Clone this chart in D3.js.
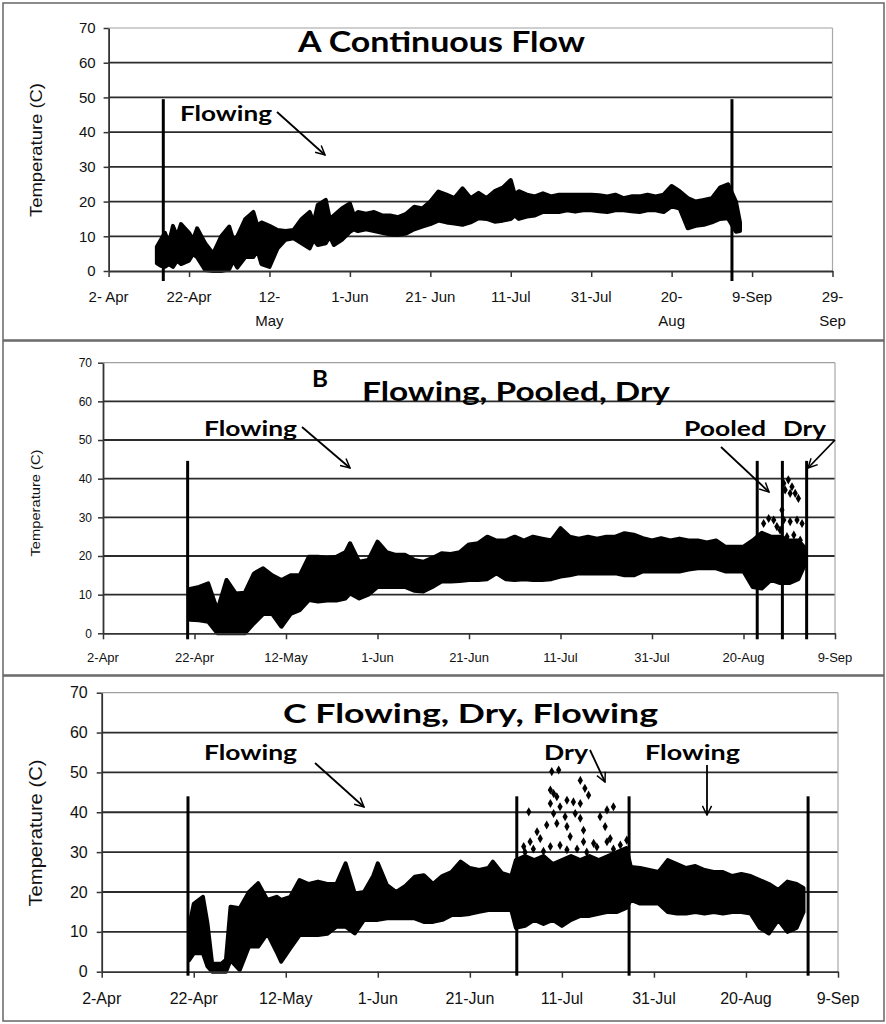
<!DOCTYPE html>
<html><head><meta charset="utf-8">
<script src="https://cdn.jsdelivr.net/npm/d3@7"></script>
<style>body{margin:0;background:#fff} svg{display:block}</style>
</head><body><svg id="c" width="886" height="1024"></svg>
<script>
// ---------- DATA (days counted from 2-Apr) ----------
const yTicks = [0,10,20,30,40,50,60,70];
const xTicksA = [0,20,40,60,80,100,120,140,160,180];
const xTicksBC = [0,20,40,60,80,100,120,140,160];
const tickLabelsA = [["2- Apr"],["22-Apr"],["12-","May"],["1-Jun"],["21- Jun"],["11-Jul"],["31-Jul"],["20-","Aug"],["9-Sep"],["29-","Sep"]];
const tickLabelsBC = ["2-Apr","22-Apr","12-May","1-Jun","21-Jun","11-Jul","31-Jul","20-Aug","9-Sep"];

// [day, min temp, max temp] envelopes of the logger readings
const bandA = [[12,2.2,7],[13,1.5,9],[14,1.2,11],[15,2,8],[16,1.2,13],[17,3,10],[18,2,13.5],[20,3,11],[21,5,9],[22,4,12.3],[24,0.3,8],[26,0,5],[28,0,10],[30,0.5,12.8],[31,3,9],[32,1,10],[34,4,15],[36,4,17],[37,6,13],[38,2,14],[40,1.2,13],[42,6.5,11.8],[44,9,11.5],[46,9.4,11.8],[48,8,15],[50,6.5,17],[51,9,14],[52,7.5,19],[54,8,20.5],[55,10,15],[56,7.5,16],[58,9,18],[60,11.3,19.5],[61,12,16],[62,11.5,17],[64,12,16.5],[66,11.5,17],[68,11,16],[70,10.5,16],[72,10.4,15.5],[74,10.8,16.5],[76,12,18.5],[78,12.8,18],[80,13.5,20],[82,14.5,22.9],[84,14,22],[86,13.7,21],[88,13.3,23.8],[90,14,21],[92,15.2,22.5],[94,15,21],[96,14.2,23],[98,14.5,24],[100,15,26.2],[101,16,22],[102,15,23],[104,15.7,22],[106,16,21.5],[108,17,22.4],[110,17,21.5],[112,17,22],[114,17.5,22],[116,17.1,22],[118,17.5,22],[120,17.5,22],[122,17.2,21.8],[124,17,21.5],[126,17.5,22],[128,17.5,21],[130,17.2,21.5],[132,17,21.5],[134,17.5,22],[136,17.5,21.5],[138,17,22],[140,18.6,24.5],[142,18,23],[144,12.3,21],[146,13,20],[148,13.3,20.5],[150,14,21],[152,15,24],[154,15.2,25],[156,11.3,20],[157,11.5,14]];

const bandB = [[19,3.5,11.5],[21,3.4,12],[23,3,12.9],[25,0,6],[27,0,13.8],[29,0,10.3],[31,0,10.5],[33,2.6,15.5],[35,5,16.8],[37,5,15],[39,1.7,13.8],[41,5,15],[43,6,15],[45,8.6,19.8],[47,8.2,19.8],[49,8.5,19.5],[51,8.5,19.8],[53,9,21],[54,10.3,23.3],[56,9,18.5],[58,10,19],[60,12,23.7],[62,12,21],[64,12,20.3],[66,12,20.3],[68,11,19],[70,10.8,18.5],[72,12,19.5],[74,13.4,20.7],[76,13.4,20.5],[78,13.5,21],[80,13.8,23],[82,13.8,23.3],[84,14,25],[86,15.5,24],[88,14,24],[90,13.8,25],[92,14,24],[94,13.8,25],[96,13.8,24.5],[98,14,24],[100,14.7,27.2],[102,15,25],[104,15.5,24.5],[106,15.5,25],[108,15.5,24.5],[110,15.5,25],[112,15.5,25],[114,15,25.9],[116,15,25.5],[118,16,24.6],[120,16,24],[122,16,24.6],[124,16,24],[126,16,24.5],[128,16.5,24],[130,16.8,24],[132,16.8,23.5],[134,16.8,24],[136,16,22.4],[138,16,22.4],[140,16,22.4],[142,12,24],[144,11.6,26],[146,13.8,25],[148,13,25],[150,13,24],[152,14,24],[153.5,18,22]];
const scatterB = [[144.4,28.4],[145.5,29.7],[146.6,29.3],[147.3,27.6],[148,26.7],[148.8,38.8],[149.1,37.1],[149.8,39.7],[150.6,37.9],[151.3,36.2],[152,34.9],[150.2,36.2],[148.8,29.3],[150.2,28.9],[151.7,29.3],[152.8,28.4],[149.5,25],[151,25.4],[152.4,24.1],[148.4,31.9]];

const bandC = [[19,2.9,11.3],[20,4.6,17],[22,4.6,18.8],[23,1.3,12],[24,0,2],[26,0,2],[27,0,3],[28,2.9,16.3],[30,0.4,15.9],[32,6.3,20],[34,6.3,22.2],[36,9.6,18],[38,5,18.8],[39,2.5,18],[41,5.9,18.8],[43,9.2,23],[45,9.2,22],[47,9.2,22.6],[49,9.5,22],[51,11.3,22],[53,11.3,27.2],[55,9.6,19.6],[57,13,20],[59,13,24],[60,13,27.2],[62,13.4,21.7],[64,13.4,20],[66,13.4,21.5],[68,13.4,23.8],[70,12.5,24.2],[72,12.5,22],[74,13,24],[76,14.2,25],[78,14.2,27.6],[80,14.5,26],[82,15,25.5],[84,15.5,26],[85,15.5,27.6],[87,15.5,24.7],[89,15.5,24],[90,11,28],[92,11.5,29],[94,13,28],[96,12,29],[98,13,27],[100,11.5,28],[102,13,29],[104,14,28],[106,14,29],[108,14.5,28],[110,15,29],[112,15,30],[114,16,31],[115,18,26.3],[117,17.1,26],[119,17.1,25.5],[121,17.1,25],[123,15,28],[125,14.6,27],[127,14.6,26],[129,15,26.5],[131,14.6,25.5],[133,15,25],[135,14.6,25],[137,15,24],[139,15,24.5],[141,14.6,24],[143,11,23],[145,9.6,22],[147,13,20.5],[149,10,22.6],[151,11,22],[152.5,15,21]];
const scatterC = [[92.8,40.1],[97.8,50.2],[99.3,50.6],[97.5,45.6],[98.2,44.7],[98.9,43.9],[101.1,43],[102.5,42.6],[104,48],[105,46],[105.8,44.3],[104,42.2],[99.6,41.4],[97.5,42.2],[98.2,39.7],[100.7,38.9],[102.9,39.7],[104,38.5],[109.8,40.6],[111.2,41.4],[108.3,38.9],[94.6,35.1],[96.7,36.8],[98.9,37.2],[101.1,36.4],[104.7,35.5],[109.4,36.4],[93.1,32.6],[95.3,33.4],[101.8,33.9],[104.7,32.6],[110.5,33.4],[114.1,33],[91.7,31.4],[97.5,31.4],[106.9,32.2],[112.7,31.8],[93.8,30.8],[99.6,31.7],[103.3,30.8],[107.6,31.3],[111.2,30.8],[92,30],[96,30.2],[101.1,30.6],[105.4,30],[109.8,32.6],[113.4,30]];

// flow-state boundaries (day) and their height (deg C)
const linesA = [13.6, 155];
const linesB = [18.5, 143, 148.5, 153.8];
const linesC = [18.75, 90.2, 114.6, 153.5];

// ---------- RENDER ----------
const svg = d3.select("#c");
const t0 = Date.UTC(2010,3,2);
const day = d => new Date(t0 + d*864e5);
const AX = "'Liberation Sans', Arial, sans-serif";
const TF = "Lato, 'Open Sans', sans-serif";

svg.append("defs").append("marker").attr("id","arr").attr("viewBox","0 0 12 12")
  .attr("refX",11).attr("refY",6).attr("markerWidth",11).attr("markerHeight",11)
  .attr("markerUnits","userSpaceOnUse").attr("orient","auto")
  .append("path").attr("d","M1,1 L11,6 L1,11").attr("fill","none").attr("stroke","#000").attr("stroke-width",1.6);

[[3,3,881,337],[3,341,881,334],[3,676,881,345]].forEach(r=>{
  svg.append("rect").attr("x",r[0]).attr("y",r[1]).attr("width",r[2]).attr("height",r[3])
    .attr("fill","none").attr("stroke","#666").attr("stroke-width",1.5);
});

function drawPanel(p){
  const g = svg.append("g");
  const x = d3.scaleUtc().domain([day(0), day(p.endDay)]).range([p.left, p.right]);
  const y = d3.scaleLinear().domain([0,70]).range([p.bottom, p.top]);

  g.selectAll("line.grid").data(yTicks.filter(v=>v>0)).join("line").attr("class","grid")
    .attr("x1",p.left).attr("x2",p.right).attr("y1",d=>y(d)).attr("y2",d=>y(d))
    .attr("stroke",d=>d===70?"#a0a0a0":"#2b2b2b").attr("stroke-width",d=>d===70?1.2:1.8);
  g.append("line").attr("x1",p.right).attr("x2",p.right).attr("y1",y(0)).attr("y2",y(70))
    .attr("stroke","#a8a8a8").attr("stroke-width",1.2);

  const area = d3.area().x(d=>x(day(d[0]))).y0(d=>y(d[1])).y1(d=>y(d[2]));
  g.append("path").datum(p.band).attr("d",area).attr("fill","#000").attr("stroke","#000")
    .attr("stroke-width",4).attr("stroke-linejoin","round");
  if(p.scatter){
    g.selectAll("path.s").data(p.scatter).join("path").attr("class","s")
      .attr("d",d3.symbol().type(d3.symbolDiamond).size(24)())
      .attr("transform",d=>`translate(${x(day(d[0]))},${y(d[1])})`).attr("fill","#000");
  }

  const ga = g.append("g").attr("transform",`translate(0,${p.bottom})`)
    .call(d3.axisBottom(x).tickValues(p.xTicks.map(day)).tickSize(6).tickSizeOuter(0).tickFormat(""));
  ga.select(".domain").attr("stroke","#333").attr("stroke-width",1.8);
  ga.selectAll(".tick line").attr("stroke","#333").attr("stroke-width",1.5);
  p.xTicks.forEach((t,i)=>{
    const lab = p.xLabels[i];
    const lines = Array.isArray(lab)?lab:[lab];
    const tx = g.append("text").attr("x",x(day(t))).attr("y",p.xLabY).attr("text-anchor","middle")
      .attr("font-family",AX).attr("font-size",p.xFont).attr("fill","#111");
    lines.forEach((s,j)=>tx.append("tspan").attr("x",x(day(t))).attr("dy",j?p.xLineH:0).text(s));
  });

  const gy = g.append("g").attr("transform",`translate(${p.left},0)`)
    .call(d3.axisLeft(y).tickValues(yTicks).tickSize(5).tickSizeOuter(0).tickPadding(p.yPad));
  gy.select(".domain").attr("stroke","#333").attr("stroke-width",1.8);
  gy.selectAll(".tick line").attr("stroke","#333").attr("stroke-width",1.5);
  gy.selectAll(".tick text").attr("font-family",AX).attr("font-size",p.yFont).attr("fill","#111");
  g.append("text").attr("transform",`translate(${p.ytX},${p.ytY}) rotate(-90)`)
    .attr("text-anchor","middle").attr("font-family",AX).attr("font-size",p.ytFont)
    .attr("textLength",p.ytLen).attr("lengthAdjust","spacingAndGlyphs").attr("fill","#111")
    .text("Temperature (C)");

  g.selectAll("line.v").data(p.lines).join("line").attr("class","v")
    .attr("x1",d=>x(day(d))).attr("x2",d=>x(day(d))).attr("y1",y(p.lineTop)).attr("y2",p.bottom+p.lineExt)
    .attr("stroke","#000").attr("stroke-width",3);

  p.texts.forEach(t=>{
    g.append("text").attr("x",t.x).attr("y",t.y).attr("font-family",TF).attr("font-size",t.s)
      .attr("font-weight",t.w||700).attr("textLength",t.len).attr("lengthAdjust","spacingAndGlyphs")
      .attr("fill","#000").text(t.t);
  });
  p.arrows.forEach(a=>{
    g.append("line").attr("x1",a[0]).attr("y1",a[1]).attr("x2",a[2]).attr("y2",a[3])
      .attr("stroke","#000").attr("stroke-width",1.8).attr("marker-end","url(#arr)");
  });
}

drawPanel({left:108.6,right:832.5,top:28,bottom:271,endDay:180,band:bandA,
  xTicks:xTicksA,xLabels:tickLabelsA,xLabY:302,xLineH:24,xFont:15,yFont:15,yPad:8,
  ytX:42,ytY:150,ytFont:17,ytLen:134,lines:linesA,lineTop:49.5,lineExt:10,
  texts:[{t:"A  Continuous Flow",x:298,y:52,s:28,len:287},{t:"Flowing",x:180,y:121,s:20,len:92}],
  arrows:[[277,112,325,155]]});

drawPanel({left:103,right:835,top:362.7,bottom:633.3,endDay:160,band:bandB,scatter:scatterB,
  xTicks:xTicksBC,xLabels:tickLabelsBC,xLabY:662,xLineH:14,xFont:13,yFont:12,yPad:6,
  ytX:40,ytY:503,ytFont:12,ytLen:107,lines:linesB,lineTop:44.6,lineExt:6,
  texts:[{t:"B",x:312,y:387,s:22,len:16},{t:"Flowing, Pooled, Dry",x:362,y:401,s:26,len:308},
    {t:"Flowing",x:204,y:436,s:20,len:93},{t:"Pooled",x:684,y:436,s:20,len:82},{t:"Dry",x:783,y:436,s:20,len:43}],
  arrows:[[302,427,350,468],[721,447,769,492],[835,440,808,468]]});

drawPanel({left:101.7,right:838,top:692.7,bottom:971.7,endDay:160,band:bandC,scatter:scatterC,
  xTicks:xTicksBC,xLabels:tickLabelsBC,xLabY:1004,xLineH:16,xFont:16,yFont:16,yPad:9,
  ytX:42,ytY:833,ytFont:19,ytLen:147,lines:linesC,lineTop:44,lineExt:4,
  texts:[{t:"C   Flowing, Dry, Flowing",x:283,y:723,s:26,len:375},
    {t:"Flowing",x:204,y:760,s:20,len:93},{t:"Dry",x:544,y:760,s:20,len:44},{t:"Flowing",x:645,y:760,s:20,len:95}],
  arrows:[[315,763,364,807],[590,750,605,782],[707,765,707,815]]});
</script></body></html>
